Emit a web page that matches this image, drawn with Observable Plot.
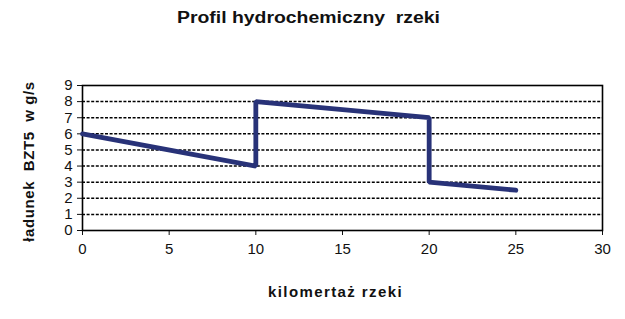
<!DOCTYPE html>
<html><head><meta charset="utf-8">
<script src="https://cdn.jsdelivr.net/npm/d3@7"></script>
<script src="https://cdn.jsdelivr.net/npm/@observablehq/plot@0.6"></script>
<style>
body{margin:0;background:#fff;}
#wrap{position:relative;width:625px;height:319px;overflow:hidden;}
#title{position:absolute;left:177px;top:10px;font:bold 16px/16px "Liberation Sans",Arial,sans-serif;transform-origin:left top;white-space:pre;color:#111;display:inline-block;}
#chart{position:absolute;left:0;top:40px;}
</style></head><body>
<div id="wrap"><div id="title"></div><div id="chart"></div></div>
<script>
const km = [0, 10, 10, 20, 20, 25];
const ladunek = [6, 4, 8, 7, 3, 2.5];
const xTicks = [0, 5, 10, 15, 20, 25, 30];
const yTicks = [0, 1, 2, 3, 4, 5, 6, 7, 8, 9];
const gridValues = [1, 2, 3, 4, 5, 6, 7, 8];
const titleText = "Profil hydrochemiczny  rzeki";
const xLabel = "kilomertaż rzeki";
const yLabel = "ładunek  BZT5  w g/s";

const titleEl = document.getElementById("title");
titleEl.textContent = titleText;
const natural = titleEl.getBoundingClientRect().width;
titleEl.style.transform = `scaleX(${263 / natural})`;

const data = km.map((k, i) => ({km: k, v: ladunek[i]}));

const plot = Plot.plot({
  width: 625,
  height: 279,
  marginTop: 45,
  marginBottom: 89,
  marginLeft: 82,
  marginRight: 23,
  style: {fontFamily: "'Liberation Sans', Arial, sans-serif", fontSize: "15px", color: "#111", background: "#fff", overflow: "visible"},
  x: {domain: [0, 30], ticks: xTicks, tickSize: 5, tickPadding: 8, label: null},
  y: {domain: [0, 9], ticks: yTicks, tickSize: 5, tickPadding: 5, label: null},
  marks: [
    Plot.gridY(gridValues, {stroke: "#000", strokeOpacity: 1, strokeWidth: 1.5, strokeDasharray: "3,1.6"}),
    Plot.frame({stroke: "#000", strokeWidth: 1.6}),
    Plot.line(data, {x: "km", y: "v", stroke: "#283278", strokeWidth: 4.8, strokeLinejoin: "miter", strokeLinecap: "round"}),
    Plot.text([xLabel], {frameAnchor: "bottom", dx: -7, dy: 62, lineAnchor: "middle", textAnchor: "middle", fontWeight: "bold", fontSize: 15, fill: "#111"}),
    Plot.text([yLabel], {frameAnchor: "left", rotate: -90, dx: -53, dy: 3.5, lineAnchor: "middle", textAnchor: "middle", fontWeight: "bold", fontSize: 15, fill: "#111"})
  ]
});
d3.select(plot).selectAll("text").style("white-space", "pre");
d3.select(plot).selectAll("text").filter(function(){return this.textContent === xLabel;}).attr("letter-spacing", "1.4px");
d3.select(plot).selectAll("text").filter(function(){return this.textContent === yLabel;}).attr("letter-spacing", "0.6px");
document.getElementById("chart").appendChild(plot);
</script>
</body></html>
